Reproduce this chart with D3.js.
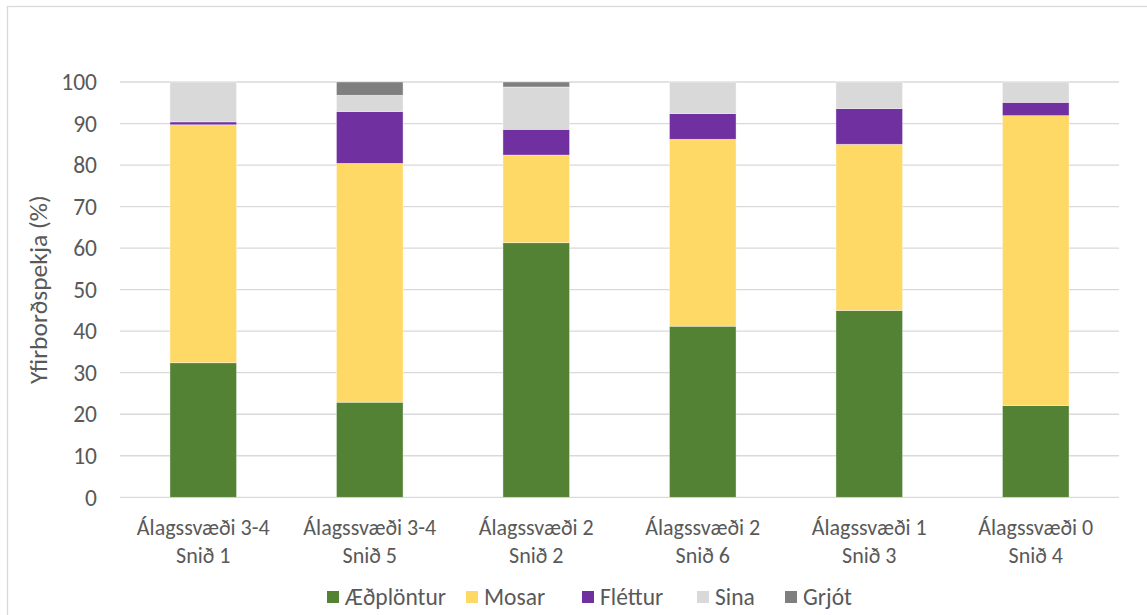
<!DOCTYPE html>
<html>
<head>
<meta charset="utf-8">
<script src="https://cdn.jsdelivr.net/npm/d3@7"></script>
<style>
  body { margin: 0; background: #fff; }
  svg { display: block; }
  text { font-family: Carlito, "Liberation Sans Narrow", "DejaVu Sans Condensed", sans-serif; fill: #595959; }
</style>
</head>
<body>
<div id="chart"></div>
<script>
// categories (two-line labels) and cover of each surface type, %
const sites = ["Álagssvæði 3-4|Snið 1", "Álagssvæði 3-4|Snið 5", "Álagssvæði 2|Snið 2",
               "Álagssvæði 2|Snið 6", "Álagssvæði 1|Snið 3", "Álagssvæði 0|Snið 4"];
const aedplontur = [32.4, 22.9, 61.3, 41.2, 45.0, 22.1];
const mosar      = [57.3, 57.5, 21.1, 45.0, 40.0, 69.8];
const flettur    = [0.7, 12.5, 6.2, 6.2, 8.6, 3.2];
const sina       = [9.6, 3.9, 10.2, 7.6, 6.4, 4.9];
const grjot      = [0, 3.2, 1.2, 0, 0, 0];
const seriesNames = ["Æðplöntur", "Mosar", "Fléttur", "Sina", "Grjót"];
const yTicks = [0, 10, 20, 30, 40, 50, 60, 70, 80, 90, 100];

const width = 1147;
const height = 615;
const margin = {top: 82, right: 28, bottom: 118, left: 120};

const colors = ["#548235", "#FFD966", "#7030A0", "#D9D9D9", "#7F7F7F"];

// rows for d3.stack
const rows = sites.map((s, i) => ({
  site: s,
  "Æðplöntur": aedplontur[i],
  "Mosar": mosar[i],
  "Fléttur": flettur[i],
  "Sina": sina[i],
  "Grjót": grjot[i]
}));
const stacked = d3.stack().keys(seriesNames)(rows);

const svg = d3.select("#chart").append("svg")
  .attr("width", width)
  .attr("height", height);

// chart frame (runs off the right and bottom like the original)
svg.append("rect")
  .attr("x", 7.5).attr("y", 6.5)
  .attr("width", width + 20).attr("height", height + 20)
  .attr("fill", "none")
  .attr("stroke", "#d9d9d9")
  .attr("stroke-width", 1.3);

const x = d3.scaleBand()
  .domain(sites)
  .range([margin.left, width - margin.right])
  .paddingInner(0.6)
  .paddingOuter(0.3);

const y = d3.scaleLinear()
  .domain([0, 100])
  .range([height - margin.bottom + 0.3, margin.top]);

// gridlines
svg.append("g")
  .selectAll("line")
  .data(yTicks)
  .join("line")
    .attr("x1", margin.left)
    .attr("x2", width - margin.right)
    .attr("y1", d => y(d))
    .attr("y2", d => y(d))
    .attr("stroke", "#d9d9d9")
    .attr("stroke-width", 1.3);

// y tick labels
svg.append("g")
  .selectAll("text")
  .data(yTicks)
  .join("text")
    .attr("x", 97)
    .attr("y", d => y(d))
    .attr("dy", "0.35em")
    .attr("text-anchor", "end")
    .style("font-size", "23.5px")
    .text(d => d);

// y axis title
svg.append("text")
  .attr("transform", `translate(47,${(y(0) + y(100)) / 2}) rotate(-90)`)
  .attr("text-anchor", "middle")
  .style("font-size", "25.5px")
  .text("Yfirborðspekja (%)");

// bars
svg.append("g")
  .selectAll("g")
  .data(stacked)
  .join("g")
    .attr("fill", (d, i) => colors[i])
  .selectAll("rect")
  .data(d => d)
  .join("rect")
    .attr("x", d => x(d.data.site))
    .attr("width", x.bandwidth())
    .attr("y", d => y(d[1]))
    .attr("height", d => Math.max(0, y(d[0]) - y(d[1])))
    .attr("stroke", "#fff")
    .attr("stroke-opacity", 0.5)
    .attr("stroke-width", 0.75);

// category labels, two lines
const cat = svg.append("g")
  .selectAll("text")
  .data(sites)
  .join("text")
    .attr("text-anchor", "middle")
    .style("font-size", "22px")
    .attr("transform", d => `translate(${x(d) + x.bandwidth() / 2},0)`);
cat.append("tspan").attr("x", 0).attr("y", 535).text(d => d.split("|")[0]);
cat.append("tspan").attr("x", 0).attr("y", 563).text(d => d.split("|")[1]);

// legend
const legendX = [327, 466, 582, 697, 785];
const legend = svg.append("g")
  .selectAll("g")
  .data(seriesNames)
  .join("g")
    .attr("transform", (d, i) => `translate(${legendX[i]},597)`);
legend.append("rect")
  .attr("x", 0).attr("y", -6)
  .attr("width", 12).attr("height", 12)
  .attr("fill", (d, i) => colors[i]);
legend.append("text")
  .attr("x", 18)
  .attr("dy", "0.35em")
  .style("font-size", "23.5px")
  .text(d => d);
</script>
</body>
</html>
